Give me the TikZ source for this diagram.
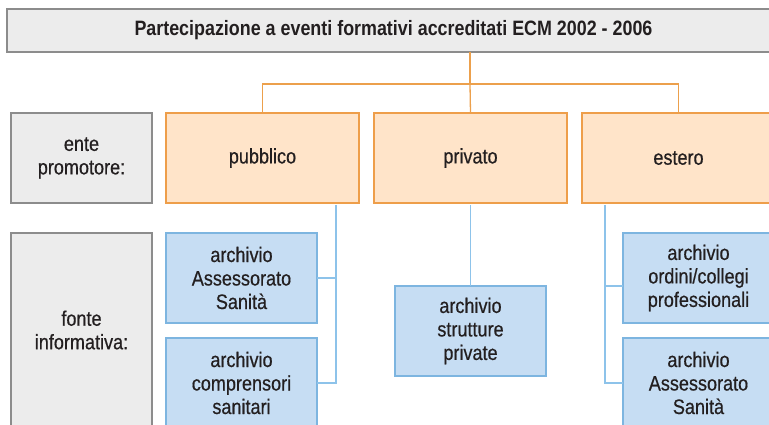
\documentclass[tikz,border=0pt]{standalone}
\usepackage{fontspec}
\setmainfont{Liberation Sans}[FakeStretch=0.86, UprightFeatures={FakeBold=0.5}]
\definecolor{txt}{HTML}{231F20}
\definecolor{orfill}{HTML}{FFE4C9}
\definecolor{ordraw}{HTML}{EE9E4A}
\definecolor{orline}{HTML}{ECA04C}
\definecolor{blfill}{HTML}{C6DDF3}
\definecolor{bldraw}{HTML}{7DB5E0}
\definecolor{blline}{HTML}{8DC3EA}
\definecolor{grfill}{HTML}{ECECEC}
\definecolor{grdraw}{HTML}{8C8C8C}
\tikzset{
  base/.style={inner sep=0pt, outer sep=0pt, align=center, text=txt,
    font=\fontsize{21}{23.5}\selectfont},
  titlebox/.style={base, draw=grdraw, fill=grfill, line width=1.8pt,
    minimum width=773pt, minimum height=43pt,
    font=\fontsize{20.8}{23}\selectfont\bfseries},
  graybox/.style={base, draw=grdraw, fill=grfill, line width=1.8pt, minimum width=141pt},
  orbox/.style={base, draw=ordraw, fill=orfill, line width=1.5pt,
    minimum width=193pt, minimum height=90pt},
  blbox/.style={base, draw=bldraw, fill=blfill, line width=1.5pt,
    minimum width=151pt, minimum height=90pt},
  orcon/.style={draw=orline, line width=1.3pt},
  blcon/.style={draw=blline, line width=1.5pt},
}
\begin{document}
\begin{tikzpicture}[x=1pt,y=-1pt]
\useasboundingbox (0,0) rectangle (769,425);
\clip (0,0) rectangle (769,425);
% title
\node[titlebox] (title) at (393.5,30.5) {Partecipazione a eventi formativi accreditati ECM 2002 - 2006};
% row labels
\node[graybox, minimum height=90pt] (ente) at (81.5,158) {ente\\promotore:};
\node[graybox, minimum height=194pt] (fonteb) at (81.5,330) {};
\node[base] (fonte) at (81.5,330) {fonte\\informativa:};
% promoters
\node[orbox] (pub) at (262.5,158) {pubblico};
\node[orbox] (priv) at (470.5,158) {privato};
\node[orbox] (est) at (678.5,158) {estero};
% sources
\node[blbox] (a1) at (241.5,278) {archivio\\Assessorato\\Sanità};
\node[blbox] (a2) at (241.5,383) {archivio\\comprensori\\sanitari};
\node[blbox] (b) at (470.5,331) {archivio\\strutture\\private};
\node[blbox] (c1) at (698.5,278) {archivio\\ordini/collegi\\professionali};
\node[blbox] (c2) at (698.5,383) {archivio\\Assessorato\\Sanità};
% orange connectors
\coordinate (hub) at (470,84);
\draw[orcon] (title.south -| hub) -- (hub);
\draw[orcon] (pub.north) |- (hub) -| (est.north);
\draw[orcon] (hub) -- (priv.north);
% blue connectors
\coordinate (pd) at (336,205);
\coordinate (vd) at (470.5,205);
\coordinate (ed) at (605,205);
\draw[blcon] (pd) |- (a2.east);
\draw[blcon] (a1.east) -- (a1.east -| pd);
\draw[blcon] (vd) -- (b.north);
\draw[blcon] (ed) |- (c2.west);
\draw[blcon] ([yshift=-8pt]c1.west) -- ([yshift=-8pt]c1.west -| ed);
\end{tikzpicture}
\end{document}
